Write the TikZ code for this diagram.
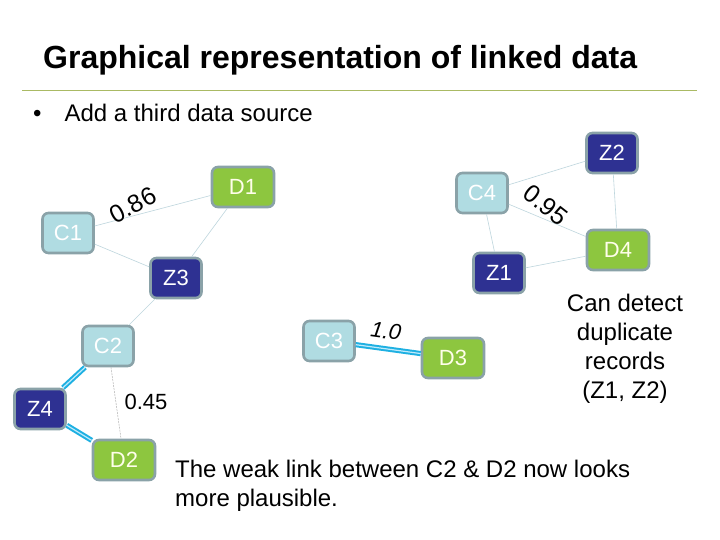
\documentclass[tikz,border=0pt]{standalone}
\usepackage{fontspec}
\setmainfont{Liberation Sans}
\begin{document}
\begin{tikzpicture}[x=1pt,y=-1pt,
  box/.style={draw=boxborder, line width=2.6pt, rounded corners=6pt, minimum height=40pt, inner sep=0pt, text=white, font=\fontsize{22}{24}\selectfont},
  cbox/.style={box, fill=lightbox, minimum width=51pt},
  zbox/.style={box, fill=darkbox, minimum width=51pt},
  dbox/.style={box, fill=greenbox, minimum width=62pt, text=white!92!yellow},
  thin/.style={draw=edgecol, line width=0.6pt},
  weak/.style={draw=gray!60, line width=0.5pt, dashed, dash pattern=on 2pt off 1pt},
  strong/.style={draw=cyanlink, double=cyan!25, line width=2pt, double distance=1.2pt},
  lbl/.style={font=\fontsize{22}{24}\selectfont, inner sep=0pt},
  biglbl/.style={font=\fontsize{25}{28}\selectfont, inner sep=0pt},
  txt/.style={font=\fontsize{24}{29}\selectfont, inner sep=0pt}]
\definecolor{lightbox}{RGB}{176,220,226}
\definecolor{darkbox}{RGB}{46,49,146}
\definecolor{greenbox}{RGB}{141,198,63}
\definecolor{boxborder}{RGB}{138,162,168}
\definecolor{edgecol}{RGB}{190,214,221}
\definecolor{cyanlink}{RGB}{30,176,226}
\definecolor{ruleol}{RGB}{170,186,100}
\useasboundingbox (0,0) rectangle (720,540);
\fill[white] (0,0) rectangle (720,540);
% title
\node[anchor=west, inner sep=0pt, font=\fontsize{32}{35}\selectfont\bfseries] (title) at (43,60) {Graphical representation of linked data};
\draw[ruleol, line width=0.8pt] (22,90) -- (697,90);
\node[anchor=west, inner sep=0pt, font=\fontsize{24}{28}\selectfont] (bul) at (33,113) {\textbullet\hspace{23pt}Add a third data source};
% positions
\coordinate (pC1) at (68,233);
\coordinate (pD1) at (243,187);
\coordinate (pZ3) at (176,278);
\coordinate (pC4) at (482,193);
\coordinate (pZ2) at (612,153);
\coordinate (pD4) at (618,250);
\coordinate (pZ1) at (499,273);
\coordinate (pC2) at (108,346);
\coordinate (pZ4) at (40,409);
\coordinate (pD2) at (124,460);
\coordinate (pC3) at (329,341);
\coordinate (pD3) at (453,358);
% nodes
\node[cbox] (C1) at (pC1) {C1};
\node[dbox] (D1) at (pD1) {D1};
\node[zbox] (Z3) at (pZ3) {Z3};
\node[cbox] (C4) at (pC4) {C4};
\node[zbox] (Z2) at (pZ2) {Z2};
\node[dbox] (D4) at (pD4) {D4};
\node[zbox] (Z1) at (pZ1) {Z1};
\node[cbox] (C2) at (pC2) {C2};
\node[zbox] (Z4) at (pZ4) {Z4};
\node[dbox] (D2) at (pD2) {D2};
\node[cbox] (C3) at (pC3) {C3};
\node[dbox] (D3) at (pD3) {D3};
% edges
\draw[thin] (C1) -- (D1);
\draw[thin] (C1) -- (Z3);
\draw[thin] (D1) -- (Z3);
\draw[thin] (Z3) -- (C2);
\draw[thin] (C4) -- (Z2);
\draw[thin] (C4) -- (D4);
\draw[thin] (C4) -- (Z1);
\draw[thin] (Z1) -- (D4);
\draw[thin] (Z2) -- (D4);
\draw[weak] (C2) -- (D2);
\draw[strong] (Z4) -- (C2);
\draw[strong] (Z4) -- (D2);
\draw[strong] (C3) -- (D3);
% labels
\node[biglbl, rotate=28] (l086) at (133,205) {0.86};
\node[biglbl, rotate=-38] (l095) at (546,205) {0.95};
\node[lbl, rotate=-8, font=\fontsize{22}{24}\selectfont\itshape] (l10) at (386,331) {1.0};
\node[lbl] (l045) at (146,402) {0.45};
% texts
\node[txt, align=center] (dup) at (625,349) {Can detect\\duplicate\\records\\(Z1, Z2)};
\node[txt, anchor=north west, align=left] (weaktxt) at (175,460) {The weak link between C2 \& D2 now looks\\more plausible.};
\end{tikzpicture}
\end{document}
